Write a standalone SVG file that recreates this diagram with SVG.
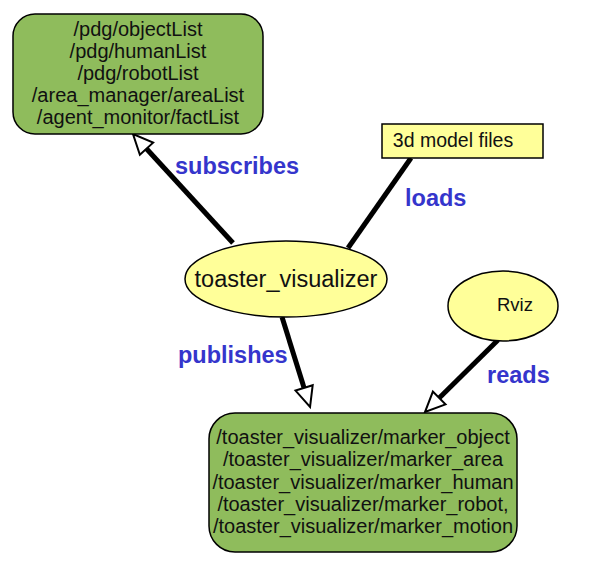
<svg xmlns="http://www.w3.org/2000/svg" width="598" height="570" viewBox="0 0 598 570">
<defs>
<style>
.box{fill:#8fbc5c;stroke:#000;stroke-width:1.5}
.ell{fill:#ffff99;stroke:#000;stroke-width:1.5}
.t{font-family:"Liberation Sans",Arial,sans-serif;fill:#111;text-anchor:middle}
.lbl{font-family:"Liberation Sans",Arial,sans-serif;font-weight:bold;font-size:23.5px;fill:#3535cc}
.edge{stroke:#000;stroke-width:5;fill:none}
</style>
<marker id="oa" markerUnits="userSpaceOnUse" markerWidth="24" markerHeight="22" refX="1" refY="10" orient="auto" viewBox="0 0 24 20" overflow="visible">
<path d="M1,1 L21,10 L1,19 Z" fill="#fff" stroke="#000" stroke-width="2" stroke-linejoin="miter"/>
</marker>
</defs>
<rect width="598" height="570" fill="#fff"/>
<g id="edges">
<line class="edge" x1="233" y1="243" x2="146.5" y2="148.7" marker-end="url(#oa)"/>
<line class="edge" x1="348" y1="248" x2="411" y2="158"/>
<line class="edge" x1="282" y1="317" x2="304.1" y2="387.9" marker-end="url(#oa)"/>
<line class="edge" x1="498" y1="340" x2="439.2" y2="398" marker-end="url(#oa)"/>
<text class="lbl" x="175" y="174">subscribes</text>
<text class="lbl" x="405" y="206">loads</text>
<text class="lbl" x="178" y="363">publishes</text>
<text class="lbl" x="487" y="383">reads</text>
</g>
<g id="topics_in">
<rect class="box" x="13" y="14" width="250" height="120" rx="22" ry="22"/>
<text class="t" font-size="20" x="138" y="36">/pdg/objectList</text>
<text class="t" font-size="20" x="138" y="58">/pdg/humanList</text>
<text class="t" font-size="20" x="138" y="80">/pdg/robotList</text>
<text class="t" font-size="20" x="138" y="102">/area_manager/areaList</text>
<text class="t" font-size="20" x="138" y="124">/agent_monitor/factList</text>
</g>
<g id="model_files">
<rect x="382" y="124" width="161" height="34" fill="#ffff99" stroke="#000" stroke-width="1.5"/>
<text class="t" font-size="19.5" x="453" y="147">3d model files</text>
</g>
<g id="toaster_visualizer">
<ellipse class="ell" cx="286" cy="279" rx="101" ry="38"/>
<text class="t" font-size="23.5" x="286" y="287">toaster_visualizer</text>
</g>
<g id="rviz">
<ellipse class="ell" cx="503" cy="306" rx="55" ry="35"/>
<text class="t" font-size="18.5" x="515" y="311">Rviz</text>
</g>
<g id="topics_out">
<rect class="box" x="209" y="413" width="308" height="139" rx="26" ry="26"/>
<text class="t" font-size="20" x="363" y="444">/toaster_visualizer/marker_object</text>
<text class="t" font-size="20" x="363" y="466">/toaster_visualizer/marker_area</text>
<text class="t" font-size="20" x="363" y="489">/toaster_visualizer/marker_human</text>
<text class="t" font-size="20" x="363" y="511">/toaster_visualizer/marker_robot,</text>
<text class="t" font-size="20" x="363" y="533">/toaster_visualizer/marker_motion</text>
</g>
</svg>
